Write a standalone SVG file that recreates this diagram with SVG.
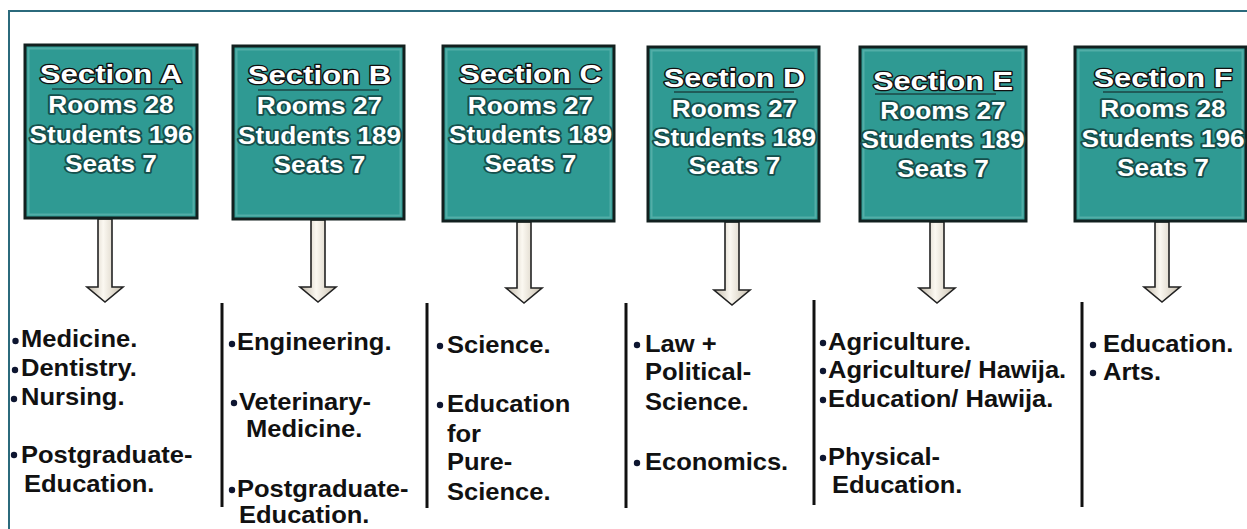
<svg xmlns="http://www.w3.org/2000/svg" width="1247" height="529" viewBox="0 0 1247 529">
<style>
.box{fill:#2f9a93;stroke:#12201f;stroke-width:3}
.inner{fill:none;stroke:#5bb3ad;stroke-width:2;opacity:.8}
.title{font-family:"Liberation Sans",Arial,sans-serif;font-size:26px;font-weight:bold;fill:#fff;stroke:#111;stroke-width:2.6;stroke-linejoin:round;paint-order:stroke;text-anchor:middle}
.data{font-family:"Liberation Sans",Arial,sans-serif;font-size:23px;font-weight:bold;fill:#fff;text-anchor:middle;stroke:#154f4c;stroke-width:3.5;stroke-linejoin:round;paint-order:stroke}
.ul{stroke:#1d4644;stroke-width:1.6}
.item{font-family:"Liberation Sans",Arial,sans-serif;font-size:23px;font-weight:bold;fill:#111}
.dot{fill:#0d1530}
.sep{stroke:#111;stroke-width:3}
.arrow{fill:url(#ag);stroke:#222;stroke-width:1.6;stroke-linejoin:miter}
</style>
<defs>
<linearGradient id="ag" x1="0" y1="0" x2="1" y2="0">
<stop offset="0" stop-color="#bfb6a6"/>
<stop offset="0.45" stop-color="#fbf8f1"/>
<stop offset="1" stop-color="#c8bfae"/>
</linearGradient>
</defs>
<rect x="9" y="11" width="1270" height="560" fill="none" stroke="#2b6a7c" stroke-width="2"/>

<g id="connectors">
<path class="arrow" d="M98 219 H112 V287 H123 L105 302 L87 287 H98 Z"/>
<path class="arrow" d="M311 220 H325 V287 H336 L318 302 L300 287 H311 Z"/>
<path class="arrow" d="M517 222 H531 V288 H542 L524 303 L506 288 H517 Z"/>
<path class="arrow" d="M725 222 H739 V290 H750 L732 305 L714 290 H725 Z"/>
<path class="arrow" d="M930 222 H944 V288 H955 L937 303 L919 288 H930 Z"/>
<path class="arrow" d="M1155 222 H1169 V287 H1180 L1162 302 L1144 287 H1155 Z"/>
<line class="sep" x1="222" y1="303" x2="222" y2="507"/>
<line class="sep" x1="427" y1="303" x2="427" y2="508"/>
<line class="sep" x1="626" y1="303" x2="626" y2="508"/>
<line class="sep" x1="814" y1="300" x2="814" y2="505"/>
<line class="sep" x1="1082" y1="302" x2="1082" y2="507"/>
</g>

<g id="sectionA">
<rect class="box" x="25" y="45" width="172" height="173"/>
<rect class="inner" x="28.5" y="48.5" width="165" height="166"/>
<line class="ul" x1="52" y1="89" x2="173" y2="89"/>
<g transform="translate(111 0) scale(1.14 1)">
<text class="title" x="0" y="83" textLength="125" lengthAdjust="spacingAndGlyphs">Section A</text>
<text class="data" x="0" y="113">Rooms 28</text>
<text class="data" x="0" y="143">Students 196</text>
<text class="data" x="0" y="172">Seats 7</text>
</g>
</g>

<g id="sectionB">
<rect class="box" x="233" y="46" width="171" height="173"/>
<rect class="inner" x="236.5" y="49.5" width="164" height="166"/>
<line class="ul" x1="258" y1="90" x2="379" y2="90"/>
<g transform="translate(319.5 0) scale(1.14 1)">
<text class="title" x="0" y="84" textLength="126" lengthAdjust="spacingAndGlyphs">Section B</text>
<text class="data" x="0" y="114">Rooms 27</text>
<text class="data" x="0" y="144">Students 189</text>
<text class="data" x="0" y="173">Seats 7</text>
</g>
</g>

<g id="sectionC">
<rect class="box" x="443" y="46" width="171" height="175"/>
<rect class="inner" x="446.5" y="49.5" width="164" height="168"/>
<line class="ul" x1="470" y1="89" x2="591" y2="89"/>
<g transform="translate(530.5 0) scale(1.14 1)">
<text class="title" x="0" y="83" textLength="125" lengthAdjust="spacingAndGlyphs">Section C</text>
<text class="data" x="0" y="114">Rooms 27</text>
<text class="data" x="0" y="143">Students 189</text>
<text class="data" x="0" y="172">Seats 7</text>
</g>
</g>

<g id="sectionD">
<rect class="box" x="648" y="47" width="171" height="174"/>
<rect class="inner" x="651.5" y="50.5" width="164" height="167"/>
<line class="ul" x1="674" y1="92" x2="794" y2="92"/>
<g transform="translate(734.5 0) scale(1.14 1)">
<text class="title" x="0" y="87" textLength="124" lengthAdjust="spacingAndGlyphs">Section D</text>
<text class="data" x="0" y="117">Rooms 27</text>
<text class="data" x="0" y="146">Students 189</text>
<text class="data" x="0" y="174">Seats 7</text>
</g>
</g>

<g id="sectionE">
<rect class="box" x="860" y="47" width="166" height="174"/>
<rect class="inner" x="863.5" y="50.5" width="159" height="167"/>
<line class="ul" x1="875" y1="94" x2="996" y2="94"/>
<g transform="translate(943 0) scale(1.14 1)">
<text class="title" x="0" y="90" textLength="123" lengthAdjust="spacingAndGlyphs">Section E</text>
<text class="data" x="0" y="119">Rooms 27</text>
<text class="data" x="0" y="148">Students 189</text>
<text class="data" x="0" y="177">Seats 7</text>
</g>
</g>

<g id="sectionF">
<rect class="box" x="1075" y="47" width="171" height="174"/>
<rect class="inner" x="1078.5" y="50.5" width="164" height="167"/>
<line class="ul" x1="1103" y1="92" x2="1223" y2="92"/>
<g transform="translate(1163 0) scale(1.14 1)">
<text class="title" x="0" y="87" textLength="122" lengthAdjust="spacingAndGlyphs">Section F</text>
<text class="data" x="0" y="117">Rooms 28</text>
<text class="data" x="0" y="147">Students 196</text>
<text class="data" x="0" y="176">Seats 7</text>
</g>
</g>

<g id="listA">
<circle class="dot" cx="15.5" cy="341" r="3.2"/>
<circle class="dot" cx="15" cy="370" r="3.2"/>
<circle class="dot" cx="14" cy="399" r="3.2"/>
<circle class="dot" cx="14" cy="455" r="3.2"/>
<text class="item" transform="translate(21 347) scale(1.11 1)">Medicine.</text>
<text class="item" transform="translate(21 376) scale(1.11 1)">Dentistry.</text>
<text class="item" transform="translate(21 405) scale(1.11 1)">Nursing.</text>
<text class="item" transform="translate(21 463) scale(1.11 1)">Postgraduate-</text>
<text class="item" transform="translate(24 492) scale(1.11 1)">Education.</text>
</g>

<g id="listB">
<circle class="dot" cx="232" cy="344" r="3.2"/>
<circle class="dot" cx="234" cy="403" r="3.2"/>
<circle class="dot" cx="232" cy="490" r="3.2"/>
<text class="item" transform="translate(237 350) scale(1.11 1)">Engineering.</text>
<text class="item" transform="translate(239 410) scale(1.11 1)">Veterinary-</text>
<text class="item" transform="translate(246 437) scale(1.11 1)">Medicine.</text>
<text class="item" transform="translate(237 497) scale(1.11 1)">Postgraduate-</text>
<text class="item" transform="translate(239 523) scale(1.11 1)">Education.</text>
</g>

<g id="listC">
<circle class="dot" cx="440" cy="346" r="3.2"/>
<circle class="dot" cx="440" cy="405" r="3.2"/>
<text class="item" transform="translate(447 353) scale(1.11 1)">Science.</text>
<text class="item" transform="translate(447 412) scale(1.11 1)">Education</text>
<text class="item" transform="translate(447 442) scale(1.11 1)">for</text>
<text class="item" transform="translate(447 470) scale(1.11 1)">Pure-</text>
<text class="item" transform="translate(447 500) scale(1.11 1)">Science.</text>
</g>

<g id="listD">
<circle class="dot" cx="637" cy="345" r="3.2"/>
<circle class="dot" cx="637" cy="463" r="3.2"/>
<text class="item" transform="translate(645 352) scale(1.11 1)">Law +</text>
<text class="item" transform="translate(645 380) scale(1.11 1)">Political-</text>
<text class="item" transform="translate(645 410) scale(1.11 1)">Science.</text>
<text class="item" transform="translate(645 470) scale(1.11 1)">Economics.</text>
</g>

<g id="listE">
<circle class="dot" cx="823" cy="343" r="3.2"/>
<circle class="dot" cx="823" cy="371" r="3.2"/>
<circle class="dot" cx="823" cy="400" r="3.2"/>
<circle class="dot" cx="823" cy="458" r="3.2"/>
<text class="item" transform="translate(828 350) scale(1.11 1)">Agriculture.</text>
<text class="item" transform="translate(828 378) scale(1.11 1)">Agriculture/ Hawija.</text>
<text class="item" transform="translate(828 407) scale(1.11 1)">Education/ Hawija.</text>
<text class="item" transform="translate(828 465) scale(1.11 1)">Physical-</text>
<text class="item" transform="translate(832 493) scale(1.11 1)">Education.</text>
</g>

<g id="listF">
<circle class="dot" cx="1093" cy="345" r="3.2"/>
<circle class="dot" cx="1093" cy="373" r="3.2"/>
<text class="item" transform="translate(1103 352) scale(1.11 1)">Education.</text>
<text class="item" transform="translate(1103 380) scale(1.11 1)">Arts.</text>
</g>
</svg>
